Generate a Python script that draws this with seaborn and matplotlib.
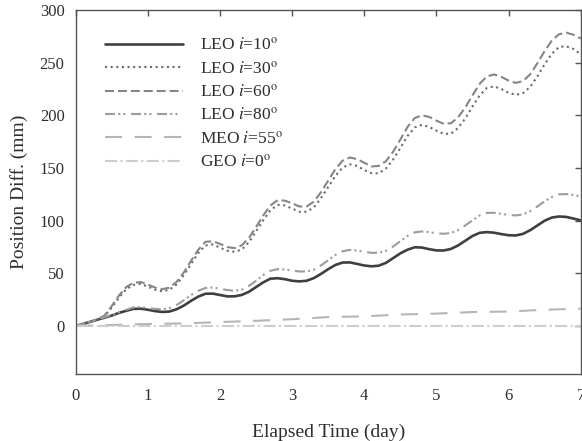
import numpy as np
import pandas as pd
import matplotlib
matplotlib.use("Agg")
import matplotlib.pyplot as plt
import seaborn as sns

# Sampling times (every 0.1 day) for the LEO orbits
days = np.round(np.arange(0, 7.0001, 0.1), 1)

leo10 = [0, 2, 4, 6, 8, 10, 12.5, 14.5, 16.3, 16.5,
         15.5, 14.2, 13.4, 13.8, 16, 19.5, 24, 28, 30.7, 30.8,
         29.5, 28.2, 28.2, 29.5, 32.5, 37, 41.5, 45, 45.4, 44.5,
         43, 42.4, 43, 45.5, 49.5, 54, 58, 60.3, 60.4, 59,
         57.5, 56.7, 57.3, 60, 64.5, 69, 72.5, 74.8, 74.5, 73,
         71.8, 71.7, 73.2, 76.5, 81, 85.5, 88.5, 89.2, 88.6, 87.3,
         86.2, 86, 87.5, 91, 95.5, 100, 103, 104, 103.6, 102,
         100.3]

leo30 = [0, 2, 4, 6.3, 9.5, 17.5, 27, 35, 39, 40,
         37.5, 34.5, 33, 34.5, 39.5, 48.5, 59, 69.5, 76.5, 77.5,
         74.5, 71.5, 70.5, 72.5, 79.5, 90, 100.5, 110, 115, 114.5,
         111.5, 108.5, 108.5, 112.5, 121.5, 132, 142.5, 150.5, 153.5, 152,
         148, 145, 145, 149.5, 158, 169, 180.5, 188.5, 191, 189,
         185.5, 182.5, 182.5, 188, 197, 208.5, 219, 226, 227.5, 225,
         221.5, 219.5, 221, 227, 237, 248.5, 258.5, 265, 265.5, 263,
         258]

leo60 = [0, 2, 4, 6.5, 10, 19, 29, 37, 41, 41.8,
         39.5, 36.5, 35, 36.5, 42, 51, 62, 72.5, 80, 80.5,
         78, 75, 74, 76.5, 83.5, 94, 105, 114.5, 119.5, 119,
         116.5, 113.5, 113.5, 118, 127, 138, 149, 157, 160, 158.5,
         155, 151.5, 152, 156.5, 165.5, 177, 189, 197.5, 200, 198.5,
         195, 192, 192.5, 198, 207.5, 219, 230, 237, 238.8, 236.5,
         233, 230.8, 232.5, 239, 249.5, 261, 271, 277, 278.5, 276.5,
         273]

leo80 = [0, 2, 4, 6, 8.5, 10.5, 13, 15.5, 17.7, 18,
         17.2, 16.3, 16, 17, 20, 24.5, 29.5, 33.5, 36.2, 36.6,
         35.5, 34.2, 33.5, 34.5, 38, 43, 48.5, 52.5, 54, 53.8,
         52.8, 51.8, 51.8, 53.5, 57.5, 62.5, 67.5, 71, 72.3, 71.8,
         70.5, 69.5, 69.6, 71.5, 75.5, 80.5, 85.5, 89, 89.8, 89.2,
         88, 87.6, 88.3, 91, 95.5, 100.5, 105, 107.4, 107.5, 106.5,
         105.5, 105, 106, 109, 113.5, 118.5, 122.5, 125, 125.3, 124.5,
         123]

# MEO and GEO change slowly, so a coarser sampling is enough
meo_days = [0, 0.5, 1.0, 1.5, 2.0, 2.5, 3.0, 3.5, 4.0, 4.5, 5.0, 5.5, 6.0, 6.5, 7.0]
meo55 = [0, 1.0, 2.0, 2.5, 3.8, 5.0, 6.5, 8.5, 9.2, 11.0, 11.8, 13.3, 13.8, 15.5, 16.5]

geo_days = [0, 7]
geo0 = [0, 0]

labels = [r"LEO $i$=10$^\mathrm{o}$", r"LEO $i$=30$^\mathrm{o}$",
          r"LEO $i$=60$^\mathrm{o}$", r"LEO $i$=80$^\mathrm{o}$",
          r"MEO $i$=55$^\mathrm{o}$", r"GEO $i$=0$^\mathrm{o}$"]

sns.set_theme(style="white")
plt.rcParams["font.family"] = ["Liberation Serif", "DejaVu Serif"]
plt.rcParams["mathtext.fontset"] = "stix"

fig = plt.figure(figsize=(5.82, 4.41), dpi=100)
ax = fig.add_axes([75.7 / 582, 1 - 374 / 441, (580.7 - 75.7) / 582, (374 - 10) / 441])

series = [
    (days, leo10, "#3f3f3f", 1.9, "-"),
    (days, leo30, "#6a6a6a", 1.5, (0, (1, 1.7))),
    (days, leo60, "#858585", 1.5, (0, (4.3, 1.9))),
    (days, leo80, "#9c9c9c", 1.5, (0, (4.8, 1.5, 1, 1.5, 1, 2.7))),
    (meo_days, meo55, "#b5b5b5", 1.5, (0, (8.2, 6))),
    (geo_days, geo0, "#cdcdcd", 1.5, (0, (5.8, 1.6, 1, 1.6))),
]

for (x, y, color, lw, ls), lab in zip(series, labels):
    df = pd.DataFrame({"day": x, "diff": y})
    sns.lineplot(data=df, x="day", y="diff", ax=ax, color=color,
                 linewidth=lw, linestyle=ls, label=lab)

ax.set_xlim(0, 7)
ax.set_ylim(-45.5, 300)
ax.set_xticks(range(0, 8))
ax.set_yticks(range(0, 301, 50))
ax.set_xlabel("Elapsed Time (day)", fontsize=14, color="#2e2e2e", labelpad=14)
ax.set_ylabel("Position Diff. (mm)", fontsize=14, color="#2e2e2e", labelpad=8)

for s in ax.spines.values():
    s.set_color("#555555")
    s.set_linewidth(1.0)
ax.tick_params(direction="in", length=4, width=1, color="#555555",
               labelsize=12, labelcolor="#2e2e2e",
               top=True, right=True, pad=10)
ax.tick_params(axis="y", pad=8)

leg = ax.legend(loc="upper left", bbox_to_anchor=(105 / 582, 1 - 37 / 441),
                bbox_transform=fig.transFigure, frameon=False,
                fontsize=12.5, handlelength=4.5, handletextpad=1.0,
                labelspacing=0.38, borderpad=0, borderaxespad=0)
for t in leg.get_texts():
    t.set_color("#2e2e2e")

fig.savefig("out.png", dpi=100)
